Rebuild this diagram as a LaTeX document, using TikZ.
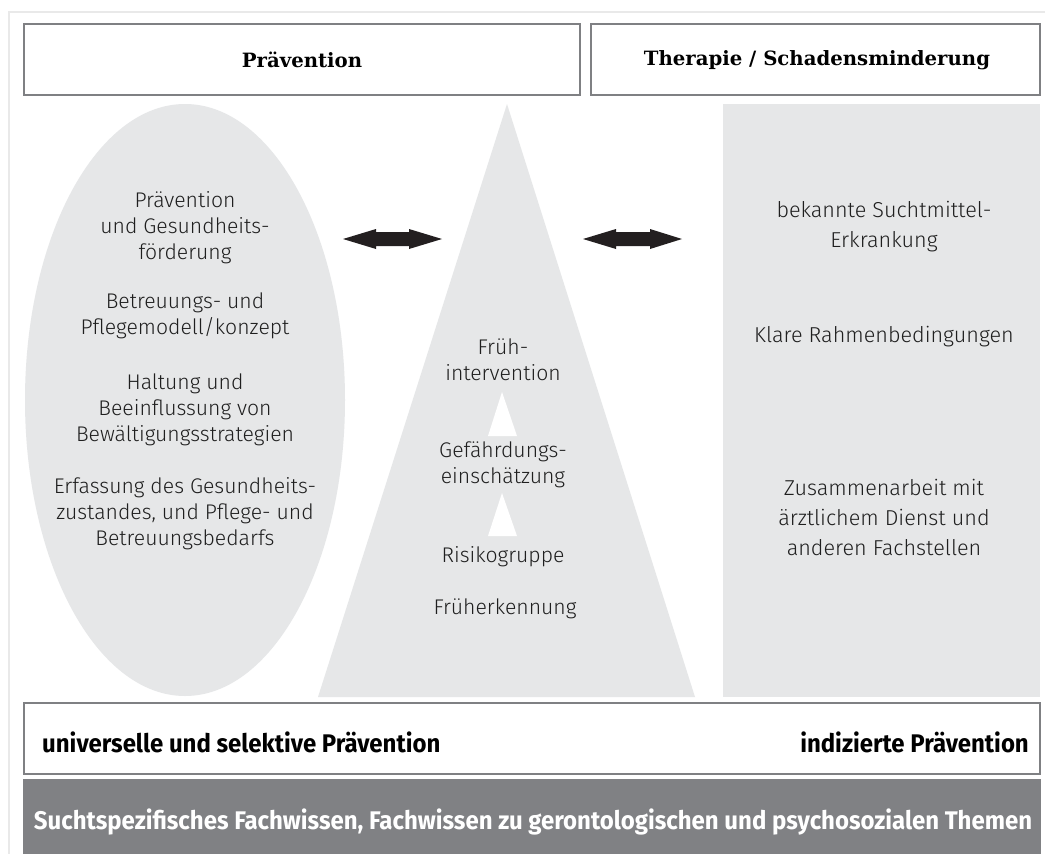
\documentclass[tikz,border=0pt]{standalone}
\usepackage{fontspec}
\setmainfont{Fira Sans Light}
\newfontfamily\headfont{DejaVu Serif}
\newfontfamily\labelfont{Fira Sans}
\usetikzlibrary{calc}

\definecolor{panelgray}{HTML}{E6E7E8}
\definecolor{boxline}{HTML}{7F8083}
\definecolor{darkbar}{HTML}{808184}
\definecolor{inktext}{HTML}{1F1F1F}
\definecolor{arrowink}{HTML}{231F20}
\definecolor{framegray}{HTML}{E9E9E9}

\tikzset{
  headbox/.style={draw=boxline, line width=2.5pt, fill=white},
  headtext/.style={font=\headfont\bfseries\fontsize{19.7}{24}\selectfont, text=black},
  bodytext/.style={font=\fontsize{21.2}{26}\selectfont, text=inktext, align=center, inner sep=0pt},
  widetext/.style={font=\fontsize{21.6}{30}\selectfont, text=inktext, align=center, inner sep=0pt},
  labeltext/.style={font=\labelfont\bfseries\fontsize{25.5}{30}\selectfont, inner sep=0pt},
  panel/.style={fill=panelgray, draw=none},
  twoway/.style={fill=arrowink, draw=none},
  stepmark/.style={fill=white, draw=none}
}

\begin{document}
\begin{tikzpicture}[x=1pt,y=-1pt]
  \useasboundingbox (0,0) rectangle (1045,854);
  \fill[white] (0,0) rectangle (1045,854);

  % faint outer frame
  \draw[framegray, line width=2pt] (9,860) -- (9,12) -- (1050,12);

  % header boxes
  \draw[headbox] (24,24) rectangle (580,95);
  \draw[headbox] (591,24) rectangle (1040,95);
  \node[headtext] (hprev) at (302,60) {Prävention};
  \node[headtext] (hther) at (817,60) {Therapie / Schadensminderung};

  % three columns
  \fill[panel] (185,400) ellipse [x radius=160, y radius=296];
  \fill[panel] (507,104) -- (695,697) -- (318,697) -- cycle;
  \fill[panel] (723,104) rectangle (1040,697);

  % double arrows between the columns
  \fill[twoway] (343,239) -- (376,229) -- (376,232) -- (409,232) -- (409,229)
     -- (442,239) -- (409,249) -- (409,246) -- (376,246) -- (376,249) -- cycle;
  \fill[twoway] (583,239) -- (616,229) -- (616,232) -- (650,232) -- (650,229)
     -- (682,239) -- (650,249) -- (650,246) -- (616,246) -- (616,249) -- cycle;

  % small upward marks inside the pyramid
  \fill[stepmark] (502,392) -- (517,436) -- (488,436) -- cycle;
  \fill[stepmark] (502,493) -- (517,536) -- (488,536) -- cycle;

  % left column
  \node[bodytext] (l1) at (185,228) {Prävention\\und Gesundheits-\\förderung};
  \node[bodytext] (l2) at (185,316) {Betreuungs- und\\Pflegemodell/konzept};
  \node[bodytext] (l3) at (185,410) {Haltung und\\Beeinflussung von\\Bewältigungsstrategien};
  \node[bodytext] (l4) at (185,514) {Erfassung des Gesundheits-\\zustandes, und Pflege- und\\Betreuungsbedarfs};

  % pyramid
  \node[bodytext] (p1) at (503,360) {Früh-\\intervention};
  \node[bodytext] (p2) at (503,465) {Gefährdungs-\\einschätzung};
  \node[bodytext] (p3) at (503,557) {Risikogruppe};
  \node[bodytext] (p4) at (505,609) {Früherkennung};

  % right column
  \node[widetext] (r1) at (884,227) {bekannte Suchtmittel-\\Erkrankung};
  \node[widetext] (r2) at (884,337) {Klare Rahmenbedingungen};
  \node[widetext] (r3) at (884,517) {Zusammenarbeit mit\\ärztlichem Dienst und\\anderen Fachstellen};

  % prevention band
  \draw[headbox] (24,703) rectangle (1040,774);
  \node[labeltext, anchor=west] (univ) at (42,742) {\scalebox{0.94}[1]{universelle und selektive Prävention}};
  \node[labeltext, anchor=east] (indi) at (1029,742) {\scalebox{0.94}[1]{indizierte Prävention}};

  % knowledge base
  \fill[darkbar] (23,779) rectangle (1041,854);
  \node[labeltext, text=white] (base) at (533,822) {\scalebox{0.94}[1]{Suchtspezifisches Fachwissen, Fachwissen zu gerontologischen und psychosozialen Themen}};
\end{tikzpicture}
\end{document}
